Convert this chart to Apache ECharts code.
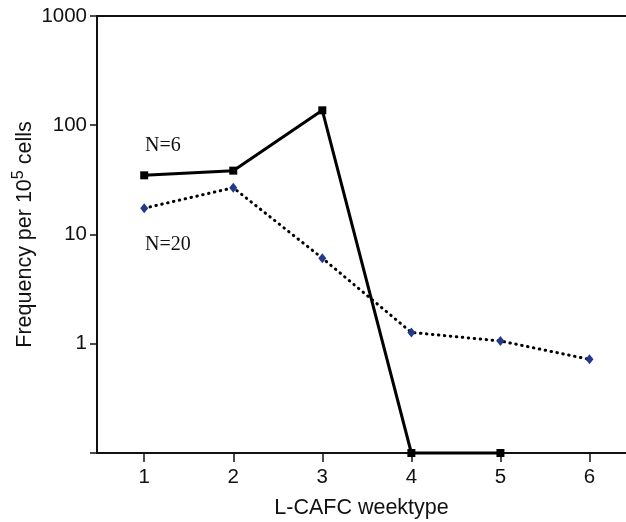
<!DOCTYPE html>
<html><head><meta charset="utf-8">
<script src="https://cdn.jsdelivr.net/npm/echarts@6/dist/echarts.min.js"></script>
<style>html,body{margin:0;padding:0;background:#fff}#c{width:626px;height:522px}</style>
</head><body><div id="c"></div>
<script>
const weektypes = [1, 2, 3, 4, 5, 6];
const n6Values = [34.8, 38.4, 137, 0.1, 0.1];
const n20Values = [17.4, 26.8, 6.07, 1.27, 1.06, 0.72];
const yTickLabels = ['1', '10', '100', '1000'];

const chart = echarts.init(document.getElementById('c'));
const font = 'Arial, "Liberation Sans", sans-serif';
chart.setOption({
  animation: false,
  grid: {left: 97, right: 0, top: 16, bottom: 69, containLabel: false, outerBoundsMode: 'none'},
  xAxis: [{
    type: 'value', min: 0.47, max: 6.41,
    name: 'L-CAFC weektype', nameLocation: 'middle', nameGap: 44, nameMoveOverlap: false,
    nameTextStyle: {fontFamily: font, fontSize: 21.5, color: '#111', verticalAlign: 'top'},
    axisLine: {lineStyle: {color: '#111', width: 2}},
    axisTick: {show: true, length: 9, lineStyle: {color: '#111', width: 1.5}, customValues: weektypes},
    axisLabel: {fontFamily: font, fontSize: 20.5, color: '#111', margin: 14, customValues: weektypes},
    splitLine: {show: false}
  }, {
    type: 'value', min: 0.47, max: 6.41, position: 'top',
    axisLine: {show: true, lineStyle: {color: '#111', width: 2}},
    axisTick: {show: false}, axisLabel: {show: false}, splitLine: {show: false}
  }],
  yAxis: {
    type: 'log', logBase: 10, min: 0.1, max: 1000,
    name: '{a|Frequency per 10}{s|5}{a| cells}', nameLocation: 'middle', nameGap: 58, nameRotate: 90,
    nameMoveOverlap: false,
    nameTextStyle: {rich: {
      a: {fontFamily: font, fontSize: 21.5, color: '#111'},
      s: {fontFamily: font, fontSize: 16, color: '#111', verticalAlign: 'top', padding: [0, 0, 12, 0]}
    }},
    axisLine: {show: true, lineStyle: {color: '#111', width: 2}},
    axisTick: {show: true, inside: false, length: 7, lineStyle: {color: '#111', width: 1.5}},
    axisLabel: {fontFamily: font, fontSize: 20.5, color: '#111', margin: 10,
      formatter: v => { const s = String(Math.round(v * 1000) / 1000); return yTickLabels.includes(s) ? s : ''; }},
    splitLine: {show: false}, minorTick: {show: false}
  },
  graphic: [
    {type: 'text', left: 145, top: 136, style: {text: 'N=6', font: '20px "Liberation Serif", "Times New Roman", serif', fill: '#111'}},
    {type: 'text', left: 145, top: 235, style: {text: 'N=20', font: '20px "Liberation Serif", "Times New Roman", serif', fill: '#111'}}
  ],
  series: [{
    name: 'N=6', type: 'line', clip: false,
    data: n6Values.map((v, i) => [weektypes[i], v]),
    symbol: 'rect', symbolSize: 8, itemStyle: {color: '#000'},
    lineStyle: {color: '#000', width: 3}, z: 3
  }, {
    name: 'N=20', type: 'line', clip: false,
    data: n20Values.map((v, i) => [weektypes[i], v]),
    symbol: 'diamond', symbolSize: [8, 10], itemStyle: {color: '#233a8c'},
    lineStyle: {color: '#000', width: 3, type: [0.5, 5.5], cap: 'round'}, z: 2
  }]
});
</script></body></html>
